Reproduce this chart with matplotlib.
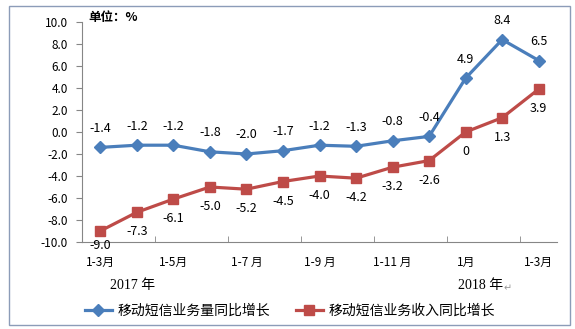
import matplotlib.pyplot as plt
from matplotlib.patches import Rectangle

plt.rcParams['font.family'] = ['Noto Sans CJK SC', 'DejaVu Sans']

# data
months = ['1-3月', '1-4月', '1-5月', '1-6月', '1-7 月', '1-8月', '1-9 月', '1-10月',
          '1-11 月', '1-12月', '1月', '1-2月', '1-3月']
volume_growth = [-1.4, -1.2, -1.2, -1.8, -2.0, -1.7, -1.2, -1.3, -0.8, -0.4, 4.9, 8.4, 6.5]
revenue_growth = [-9.0, -7.3, -6.1, -5.0, -5.2, -4.5, -4.0, -4.2, -3.2, -2.6, 0, 1.3, 3.9]
revenue_text = ['-9.0', '-7.3', '-6.1', '-5.0', '-5.2', '-4.5', '-4.0', '-4.2', '-3.2', '-2.6',
                '0', '1.3', '3.9']
volume_name = '移动短信业务量同比增长'
revenue_name = '移动短信业务收入同比增长'

BLUE = '#4A7EBB'
RED = '#BE4B48'
AXIS = '#868686'

W, H = 575, 329
fig = plt.figure(figsize=(W / 100, H / 100), dpi=100)
ax = fig.add_axes([82 / W, 1 - 242 / H, 475 / W, 220 / H])

x = list(range(len(months)))
l1, = ax.plot(x, volume_growth, color=BLUE, lw=2.3, marker='D', ms=6.5,
              label=volume_name)
l2, = ax.plot(x, revenue_growth, color=RED, lw=2.3, marker='s', ms=7.5,
              label=revenue_name)

for i, v in enumerate(volume_growth):
    ax.annotate(f'{v:.1f}', (i, v), xytext=(0, 9), textcoords='offset points',
                ha='center', va='bottom', fontsize=9, color='black')
for i, v in enumerate(revenue_growth):
    off = -6 if i == 0 else -9.5
    ax.annotate(revenue_text[i], (i, v), xytext=(0, off), textcoords='offset points',
                ha='center', va='top', fontsize=9, color='black')

ax.set_xlim(-0.5, len(months) - 0.5)
ax.set_ylim(-10, 10)
ax.set_yticks([-10, -8, -6, -4, -2, 0, 2, 4, 6, 8, 10])
ax.set_yticklabels([f'{t:.1f}' for t in ax.get_yticks()], fontsize=8.5)
ax.set_xticks(x[::2])
ax.set_xticklabels(months[::2], fontsize=8.5)
ax.set_xticks([1.5, 3.5, 5.5, 7.5, 9.5, 11.5], minor=True)
ax.tick_params(axis='x', which='major', length=0, pad=10)
ax.tick_params(axis='x', which='minor', length=4, color=AXIS, direction='in')
ax.tick_params(axis='y', length=4, color=AXIS, direction='out', pad=6)
for s in ['top', 'right']:
    ax.spines[s].set_visible(False)
for s in ['left', 'bottom']:
    ax.spines[s].set_color(AXIS)

fig.text(88 / W, 1 - 18 / H, '单位：%', fontsize=9, fontweight='bold', va='center')
fig.text(133 / W, 1 - 286 / H, '2017 年', fontsize=10, ha='center', va='center',
         family=['Liberation Serif', 'Noto Sans CJK SC'])
fig.text(481 / W, 1 - 286 / H, '2018 年', fontsize=10, ha='center', va='center',
         family=['Liberation Serif', 'Noto Sans CJK SC'])
fig.text(508 / W, 1 - 288 / H, '↵', fontsize=7, color='#999999', ha='center',
         va='center', family=['DejaVu Sans'])

fig.legend(handles=[l1, l2], loc='center', bbox_to_anchor=(290 / W, 1 - 311 / H),
           ncol=2, frameon=False, fontsize=10, handlelength=2.0, columnspacing=1.8,
           handletextpad=0.4)

fig.patches.append(Rectangle((9 / W, 1 - 325 / H), 561 / W, 319 / H,
                             transform=fig.transFigure, fill=False,
                             edgecolor='#8C9CB8', lw=1))

fig.savefig('out.png', dpi=100)
